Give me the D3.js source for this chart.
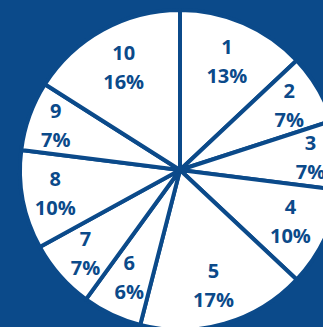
<!DOCTYPE html>
<html><head><meta charset="utf-8">
<script src="https://cdn.jsdelivr.net/npm/d3@7"></script>
<style>html,body{margin:0;padding:0;background:#0B4A8A;overflow:hidden}</style>
</head><body>
<svg id="c" width="323" height="327"></svg>
<script>
const categories = ["1","2","3","4","5","6","7","8","9","10"];
const values = [13,7,7,10,17,6,7,10,7,16];
const percentLabels = ["13%","7%","7%","10%","17%","6%","7%","10%","7%","16%"];

// label placement (layout, best-fit style distances from centre)
const labelRadius = [118,127,131,122,120,119,126,127,132,117];

const blue = "#0B4A8A";
const svg = d3.select("#c");
svg.append("rect").attr("width",323).attr("height",327).attr("fill",blue);
const cx = 180, cy = 170, R = 160;
const g = svg.append("g").attr("transform",`translate(${cx},${cy})`);
const pie = d3.pie().sort(null).value(d=>d.v);
const data = pie(categories.map((c,i)=>({c, v:values[i], p:percentLabels[i], r:labelRadius[i]})));
const arc = d3.arc().innerRadius(0).outerRadius(R);
g.selectAll("path").data(data).join("path")
  .attr("d",arc).attr("fill","#fff").attr("stroke",blue).attr("stroke-width",4).attr("stroke-linejoin","round");
const t = g.selectAll("text").data(data).join("text")
  .attr("transform",d=>{
    const a = (d.startAngle+d.endAngle)/2;
    return `translate(${d.data.r*Math.sin(a)},${-d.data.r*Math.cos(a)})`;
  })
  .attr("text-anchor","middle")
  .attr("fill",blue)
  .attr("font-family","'Open Sans', sans-serif")
  .attr("font-weight","bold")
  .attr("font-size",20);
t.append("tspan").attr("x",0).attr("y",-7.5).text(d=>d.data.c);
t.append("tspan").attr("x",0).attr("y",21.5).text(d=>d.data.p);
</script>
</body></html>
